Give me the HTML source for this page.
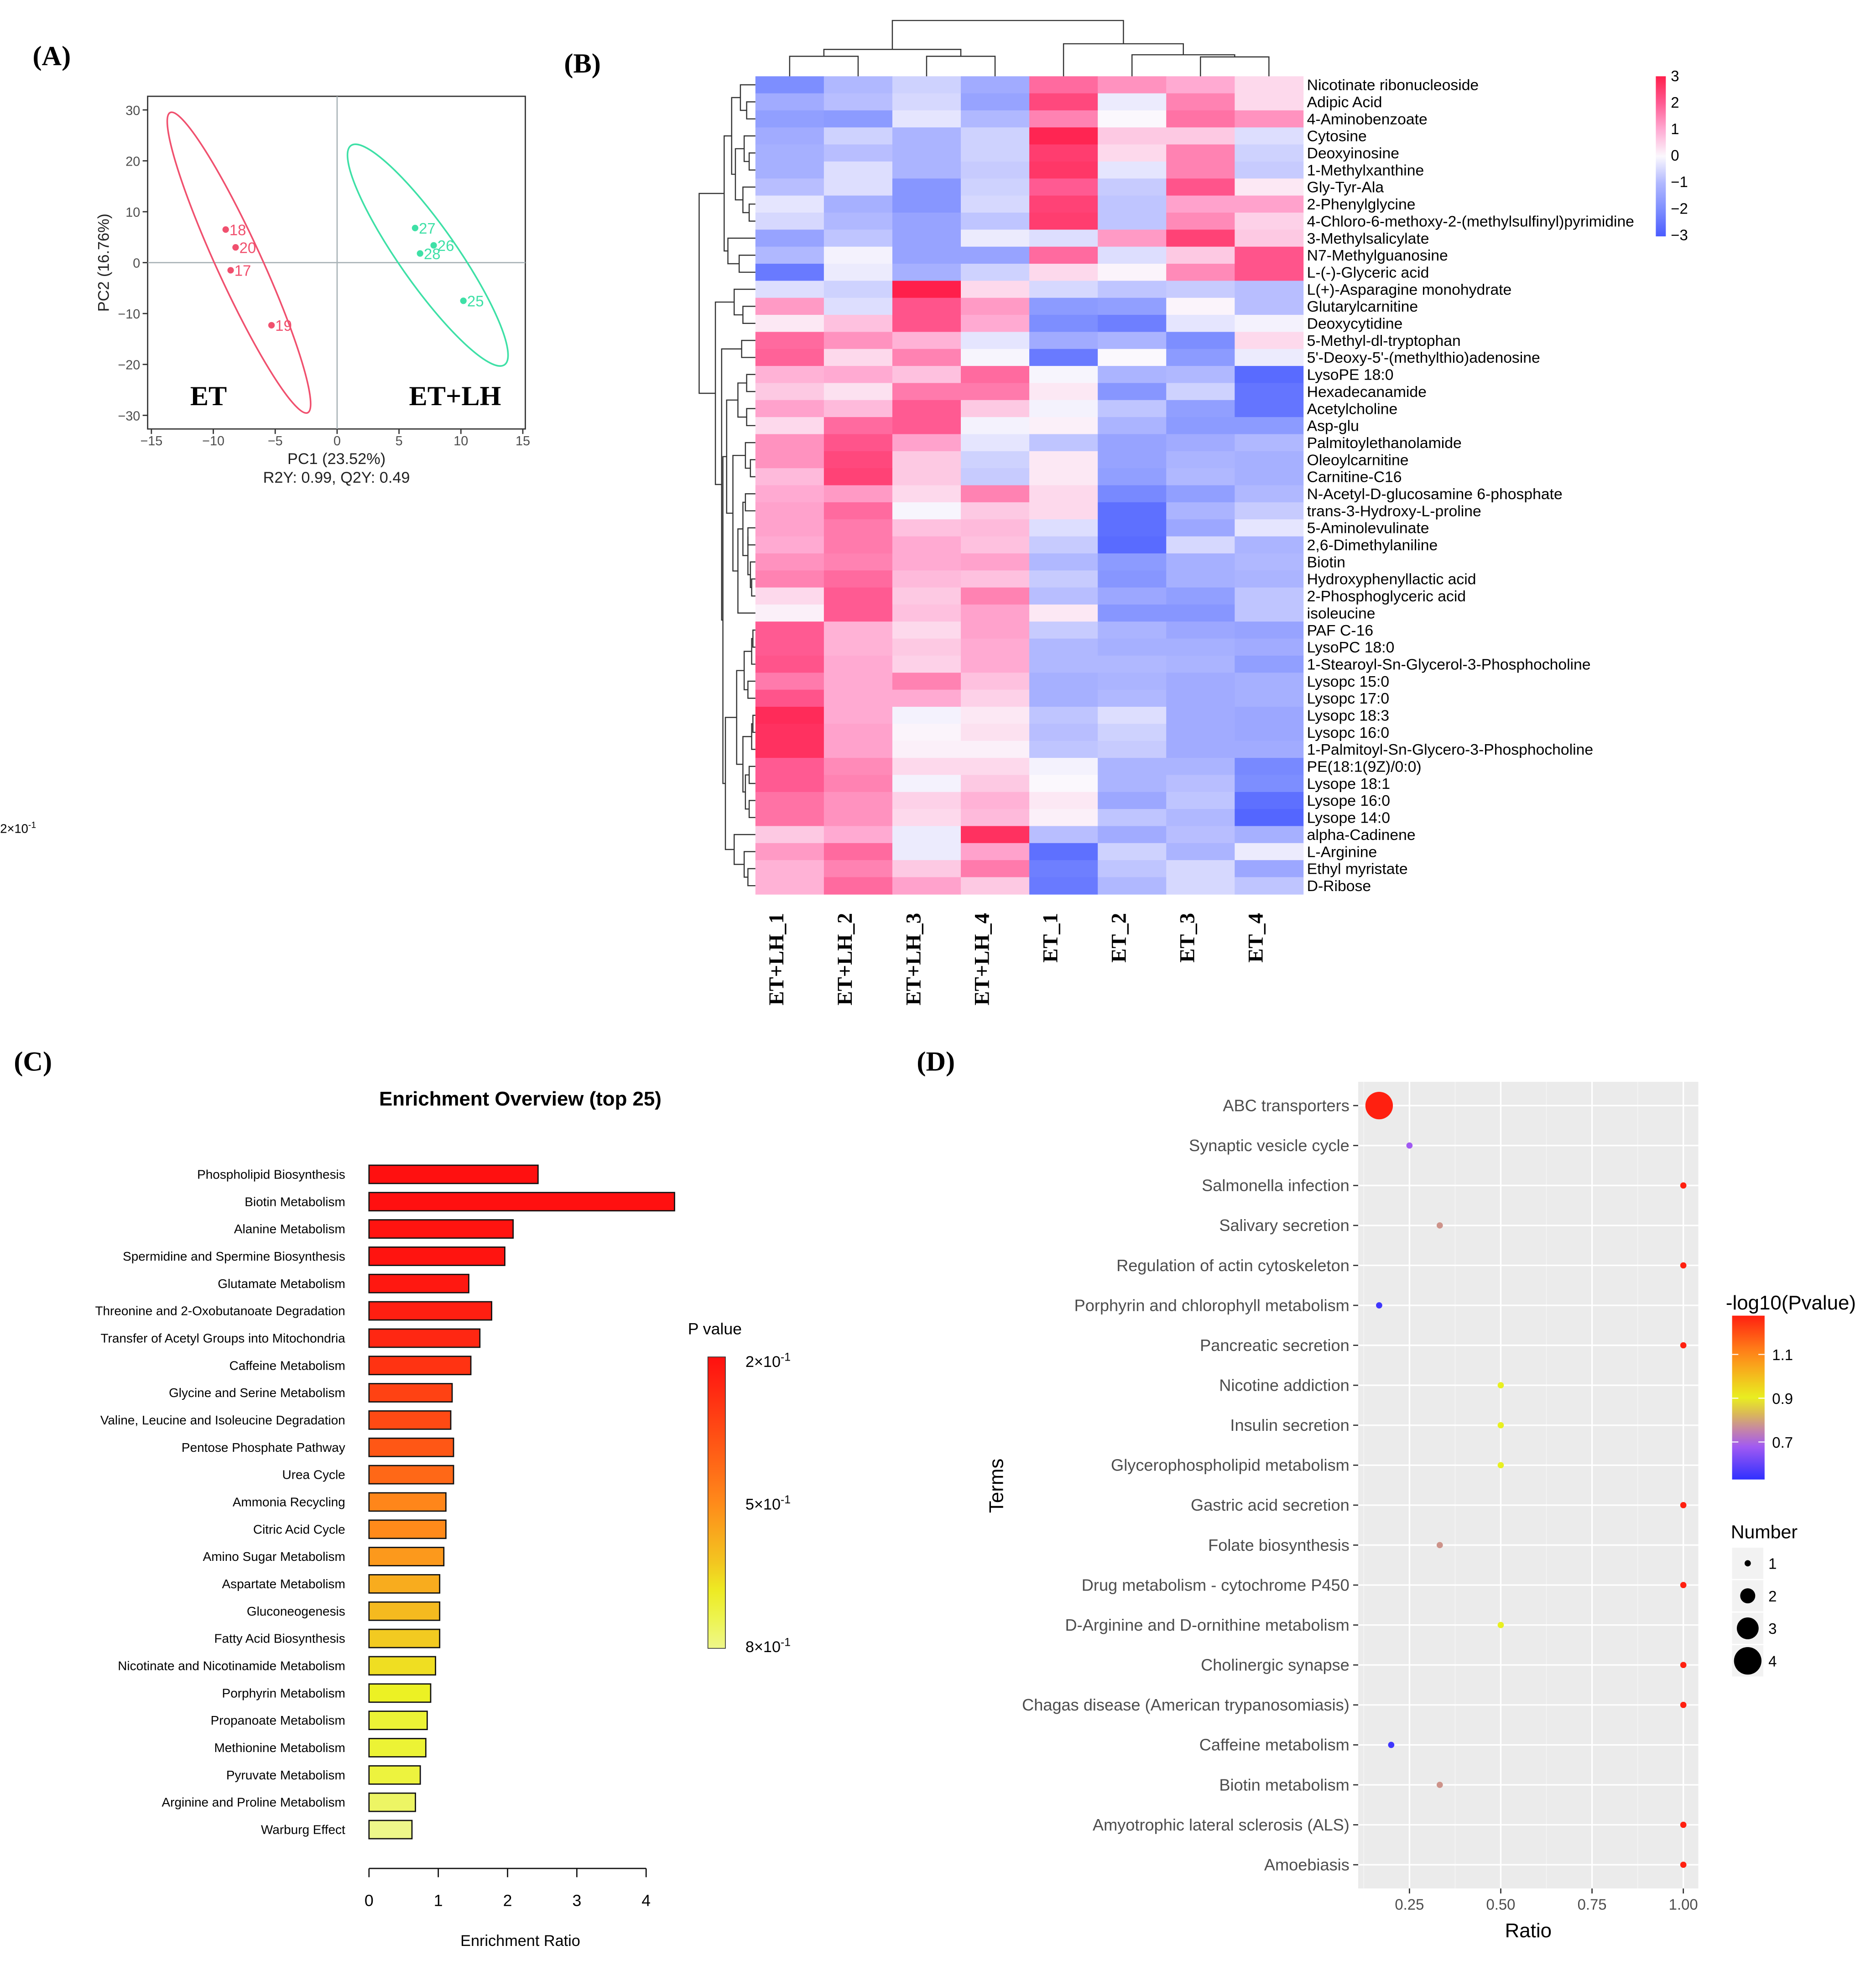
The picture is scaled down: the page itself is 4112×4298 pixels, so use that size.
<!DOCTYPE html>
<html><head><meta charset="utf-8">
<style>
html,body{margin:0;padding:0;background:#fff;}
svg{display:block;font-family:"Liberation Sans",sans-serif;}
</style></head>
<body>
<svg id="fig" xmlns="http://www.w3.org/2000/svg" width="4112" height="4298" viewBox="0 0 1500 1568">
<rect x="0" y="0" width="1500" height="1568" fill="#fff"/>
<g font-family="Liberation Serif, serif" font-weight="bold" font-size="22" fill="#000">
<text x="26" y="52">(A)</text>
<text x="451" y="58">(B)</text>
<text x="11" y="856">(C)</text>
<text x="733" y="856">(D)</text>
</g>
<text x="0" y="666" font-size="10" fill="#000">2×10<tspan dy="-4" font-size="7">-1</tspan></text>

<!-- Panel A -->
<g id="pA">
<rect x="118" y="77" width="302" height="266" fill="none" stroke="#333" stroke-width="1"/>
<text transform="translate(87,210) rotate(-90)" text-anchor="middle" font-size="12.5" fill="#222">PC2 (16.76%)</text>
<text x="269" y="371" text-anchor="middle" font-size="12.5" fill="#222">PC1 (23.52%)</text>
<text x="269" y="386" text-anchor="middle" font-size="12.5" fill="#222">R2Y: 0.99, Q2Y: 0.49</text>
<text x="152" y="324" font-family="Liberation Serif, serif" font-weight="bold" font-size="22">ET</text>
<text x="327" y="324" font-family="Liberation Serif, serif" font-weight="bold" font-size="22">ET+LH</text>
</g>

<!-- Panel B -->
<g id="pB"></g>

<!-- Panel C -->
<g id="pC">
<text x="416" y="884" text-anchor="middle" font-size="16" font-weight="bold" fill="#000">Enrichment Overview (top 25)</text>
<text x="416" y="1556" text-anchor="middle" font-size="12.5" fill="#000">Enrichment Ratio</text>
<text x="550" y="1067" font-size="13" fill="#000">P value</text>
</g>

<!-- Panel D -->
<g id="pD">
<text x="1222" y="1549" text-anchor="middle" font-size="16" fill="#000">Ratio</text>
<text transform="translate(802,1188) rotate(-90)" text-anchor="middle" font-size="16" fill="#000">Terms</text>
<text x="1380" y="1047" font-size="16" fill="#000">-log10(Pvalue)</text>
<text x="1384" y="1230" font-size="15" fill="#000">Number</text>
</g>
</svg>

<script>
// ---------- Panel A data ----------
const pcaLabels = ['18','20','17','19','27','26','28','25'];
const pcaX = [-9, -8.2, -8.6, -5.3, 6.3, 7.8, 6.7, 10.2];
const pcaY = [6.5, 3, -1.5, -12.3, 6.8, 3.4, 1.8, -7.5];
const pcaGroup = [0,0,0,0,1,1,1,1];
const pcaTicksX = [-15,-10,-5,0,5,10,15];
const pcaTicksY = [-30,-20,-10,0,10,20,30];

// ---------- Panel B data ----------
const metabolites = ['Nicotinate ribonucleoside','Adipic Acid','4-Aminobenzoate','Cytosine','Deoxyinosine','1-Methylxanthine','Gly-Tyr-Ala','2-Phenylglycine','4-Chloro-6-methoxy-2-(methylsulfinyl)pyrimidine','3-Methylsalicylate','N7-Methylguanosine','L-(-)-Glyceric acid','L(+)-Asparagine monohydrate','Glutarylcarnitine','Deoxycytidine','5-Methyl-dl-tryptophan',"5'-Deoxy-5'-(methylthio)adenosine",'LysoPE 18:0','Hexadecanamide','Acetylcholine','Asp-glu','Palmitoylethanolamide','Oleoylcarnitine','Carnitine-C16','N-Acetyl-D-glucosamine 6-phosphate','trans-3-Hydroxy-L-proline','5-Aminolevulinate','2,6-Dimethylaniline','Biotin','Hydroxyphenyllactic acid','2-Phosphoglyceric acid','isoleucine','PAF C-16','LysoPC 18:0','1-Stearoyl-Sn-Glycerol-3-Phosphocholine','Lysopc 15:0','Lysopc 17:0','Lysopc 18:3','Lysopc 16:0','1-Palmitoyl-Sn-Glycero-3-Phosphocholine','PE(18:1(9Z)/0:0)','Lysope 18:1','Lysope 16:0','Lysope 14:0','alpha-Cadinene','L-Arginine','Ethyl myristate','D-Ribose'];
const samples = ['ET+LH_1','ET+LH_2','ET+LH_3','ET+LH_4','ET_1','ET_2','ET_3','ET_4'];
const zValues = [
[-2,-1,-0.6,-1.3,1.8,1.3,1,0.4],
[-1.3,-0.9,-0.5,-1.5,2.3,-0.2,1.5,0.4],
[-1.6,-1.7,-0.3,-1,1.5,0,1.7,1.3],
[-1.3,-0.6,-1.1,-0.6,2.9,0.6,0.6,-0.4],
[-1.2,-0.9,-1.1,-0.6,2.5,0.4,1.5,-0.6],
[-1.2,-0.4,-1.1,-0.7,2.6,-0.3,1.5,-0.7],
[-0.9,-0.4,-1.8,-0.6,2,-0.7,2.1,0.2],
[-0.3,-1.2,-1.8,-0.5,2.4,-0.8,1.1,1.1],
[-0.5,-1,-1.5,-0.8,2.5,-0.8,1.4,0.5],
[-1.5,-0.8,-1.5,-0.2,-0.4,1.2,2.4,0.6],
[-1,-0.1,-1.5,-1.5,1.8,-0.4,0.6,2.1],
[-2.4,-0.2,-1.2,-0.6,0.4,0.05,1.4,2.1],
[-0.4,-0.6,3,0.4,-0.5,-0.8,-0.7,-0.9],
[1.2,-0.4,2.1,1.2,-1.7,-1.6,0.05,-0.9],
[0.2,0.7,2.1,1,-2,-2.3,-0.3,-0.1],
[1.8,1.3,0.9,-0.3,-1.3,-1.1,-2,0.4],
[1.9,0.4,1.5,-0.05,-2.4,0,-1.7,-0.2],
[0.9,1,0.7,1.8,-0.05,-1.1,-1,-2.7],
[0.6,0.3,1.6,1.6,0.2,-1.8,-0.6,-2.5],
[1.1,0.8,2,0.6,-0.1,-0.8,-1.6,-2.5],
[0.4,1.8,2,-0.1,0.1,-1.1,-1.7,-1.7],
[1.3,2.1,1.1,-0.3,-0.8,-1.5,-1.3,-1],
[1.3,2.3,0.6,-0.6,0.2,-1.5,-1.1,-1.2],
[0.8,2.4,0.6,-0.7,0.2,-1.6,-1,-1.2],
[1,1.2,0.4,1.5,0.4,-2.1,-1.6,-1],
[1.1,1.8,-0.05,0.6,0.4,-2.6,-1.1,-0.7],
[1.1,1.6,0.7,0.8,-0.4,-2.6,-1.4,-0.3],
[1,1.6,1,0.7,-0.7,-2.7,-0.5,-1.1],
[1.3,1.5,1,1.1,-1,-1.7,-1.2,-1],
[1.5,1.8,0.8,0.7,-0.7,-1.8,-1.2,-1.1],
[0.4,2,0.6,1.5,-0.9,-1.4,-1.6,-0.8],
[0.1,2,0.7,1.1,0.2,-1.8,-1.8,-0.8],
[2,0.9,0.4,1.1,-0.7,-1.1,-1.4,-1.5],
[2,0.9,0.6,1,-1,-1.2,-1.2,-1.3],
[2.1,1,0.5,1,-1,-1,-1.1,-1.6],
[1.6,1,1.5,0.7,-1.2,-1.1,-1.3,-1.2],
[2.1,1,1,0.5,-1.2,-1,-1.3,-1.2],
[2.8,1,-0.1,0.2,-0.8,-0.4,-1.3,-1.4],
[2.7,1.1,0.05,0.3,-0.9,-0.6,-1.3,-1.4],
[2.7,1.1,0.1,0.1,-0.8,-0.7,-1.3,-1.3],
[2,1.4,0.4,0.4,-0.1,-1.1,-1.1,-2.1],
[2,1.5,-0.1,0.6,0,-1.1,-0.9,-2],
[1.7,1.3,0.5,0.9,0.2,-1.4,-0.8,-2.6],
[1.7,1.3,0.4,0.8,0.1,-0.8,-1,-2.8],
[0.6,1,-0.2,2.7,-0.9,-1.3,-0.9,-1.2],
[1.2,1.8,-0.2,1.1,-2.6,-0.6,-1.1,-0.2],
[0.9,1.5,0.6,1.6,-2.3,-0.8,-0.5,-1.4],
[0.9,1.8,1.1,0.6,-2.4,-1,-0.5,-0.8]
];
const zTicks = [3,2,1,0,-1,-2,-3];
const rowTree = [45,
  [25,
    [19,[12,0,[7,1,2]],[16,[9,3,[5,4,5]],[10,6,[5,7,8]]]],
    [22,9,[13,10,11]]],
  [32,
    [17,12,[10,13,14]],
    [27,[11,15,16],
      [26,
        [23,[14,[7,17,18],[7,19,20]],
            [18,[8,21,[4,22,23]],[14,[10,[8,24,25],[6,[6,26,27],[4,28,[3,29,30]]]],31]]],
        [24,[15,[9,[3,[2,32,33],34],[6,35,36]],[10,[3,[2,37,38],39],[8,[5,40,41],[5,42,43]]]],
            [17,44,[9,45,[6,46,47]]]]]]]];
const colTree = [44.6,[21.5,[16,0,1],[16,2,3]],[26,4,[17.2,5,[15.5,6,7]]]];

// ---------- Panel C data ----------
const pathways = ['Phospholipid Biosynthesis','Biotin Metabolism','Alanine Metabolism','Spermidine and Spermine Biosynthesis','Glutamate Metabolism','Threonine and 2-Oxobutanoate Degradation','Transfer of Acetyl Groups into Mitochondria','Caffeine Metabolism','Glycine and Serine Metabolism','Valine, Leucine and Isoleucine Degradation','Pentose Phosphate Pathway','Urea Cycle','Ammonia Recycling','Citric Acid Cycle','Amino Sugar Metabolism','Aspartate Metabolism','Gluconeogenesis','Fatty Acid Biosynthesis','Nicotinate and Nicotinamide Metabolism','Porphyrin Metabolism','Propanoate Metabolism','Methionine Metabolism','Pyruvate Metabolism','Arginine and Proline Metabolism','Warburg Effect'];
const enrichRatio = [2.44,4.41,2.08,1.96,1.44,1.77,1.6,1.47,1.2,1.18,1.22,1.22,1.11,1.11,1.08,1.02,1.02,1.02,0.96,0.89,0.84,0.82,0.74,0.67,0.62];
const pValues = [0.2,0.2,0.21,0.21,0.22,0.24,0.26,0.29,0.33,0.35,0.38,0.42,0.49,0.5,0.53,0.57,0.6,0.63,0.66,0.69,0.71,0.71,0.72,0.76,0.8];
const ratioTicks = [0,1,2,3,4];
const pTickValues = [0.2,0.5,0.8];
const pTickLabels = ['2×10','5×10','8×10'];

// ---------- Panel D data ----------
const terms = ['ABC transporters','Synaptic vesicle cycle','Salmonella infection','Salivary secretion','Regulation of actin cytoskeleton','Porphyrin and chlorophyll metabolism','Pancreatic secretion','Nicotine addiction','Insulin secretion','Glycerophospholipid metabolism','Gastric acid secretion','Folate biosynthesis','Drug metabolism - cytochrome P450','D-Arginine and D-ornithine metabolism','Cholinergic synapse','Chagas disease (American trypanosomiasis)','Caffeine metabolism','Biotin metabolism','Amyotrophic lateral sclerosis (ALS)','Amoebiasis'];
const termRatio = [0.167,0.25,1,0.333,1,0.167,1,0.5,0.5,0.5,1,0.333,1,0.5,1,1,0.2,0.333,1,1];
const termLogP = [1.28,0.68,1.28,0.78,1.28,0.55,1.28,0.9,0.9,0.9,1.28,0.78,1.28,0.9,1.28,1.28,0.55,0.78,1.28,1.28];
const termNumber = [4,1,1,1,1,1,1,1,1,1,1,1,1,1,1,1,1,1,1,1];
const dTicks = [0.25,0.5,0.75,1.0];
const dTickLabels = ['0.25','0.50','0.75','1.00'];
const logPTicks = [1.1,0.9,0.7];
const numberKeys = [1,2,3,4];

// ---------- helpers ----------
const NS = 'http://www.w3.org/2000/svg';
function mk(parent, tag, attrs, txt) {
  const e = document.createElementNS(NS, tag);
  for (const k in attrs) e.setAttribute(k, attrs[k]);
  if (txt !== undefined) e.textContent = txt;
  parent.appendChild(e);
  return e;
}
function hex(c){return [parseInt(c.slice(1,3),16),parseInt(c.slice(3,5),16),parseInt(c.slice(5,7),16)];}
function interp(stops, v) {
  if (v <= stops[0][0]) return stops[0][1];
  if (v >= stops[stops.length-1][0]) return stops[stops.length-1][1];
  for (let i=0;i<stops.length-1;i++){
    const [a,ca]=stops[i],[b,cb]=stops[i+1];
    if (v>=a && v<=b){
      const t=(v-a)/(b-a), A=hex(ca), B=hex(cb);
      return 'rgb('+A.map((x,j)=>Math.round(x+(B[j]-x)*t)).join(',')+')';
    }
  }
}

// ---------- Panel A ----------
(function(){
  const g = document.getElementById('pA');
  const sx = v => 269.5 + v*9.9;
  const sy = v => 210 - v*4.07;
  const cols = ['#f0506e','#3ee0a6'];
  let l = mk(g,'line',{x1:sx(0),x2:sx(0),y1:77,y2:343,stroke:'#aab4b8','stroke-width':1});
  
  
  l = mk(g,'line',{x1:118,x2:420,y1:sy(0),y2:sy(0),stroke:'#aab4b8','stroke-width':1});
  
  
  pcaTicksX.forEach(v=>{
    const t = mk(g,'line',{x1:sx(v),x2:sx(v),y1:343,y2:347,stroke:'#333'});
    
    
    const tl = mk(g,'text',{x:sx(v),y:356,'text-anchor':'middle','font-size':10.5,fill:'#4d4d4d'}, v<0?'\u2212'+(-v):String(v));
    
    
  });
  pcaTicksY.forEach(v=>{
    const t = mk(g,'line',{x1:114,x2:118,y1:sy(v),y2:sy(v),stroke:'#333'});
    
    
    const tl = mk(g,'text',{x:112,y:sy(v)+4,'text-anchor':'end','font-size':10.5,fill:'#4d4d4d'}, v<0?'\u2212'+(-v):String(v));
    
    
  });
  const ellET = mk(g,'ellipse',{cx:191,cy:210,rx:132,ry:18,fill:'none',stroke:cols[0],'stroke-width':1.3,transform:'rotate(65.4 191 210)'});
  
  
  const ellLH = mk(g,'ellipse',{cx:342,cy:204,rx:107,ry:23,fill:'none',stroke:cols[1],'stroke-width':1.3,transform:'rotate(55 342 204)'});
  
  
  pcaLabels.forEach((lab,i)=>{
    const c = cols[pcaGroup[i]];
    const p = mk(g,'circle',{cx:sx(pcaX[i]),cy:sy(pcaY[i]),r:2.6,fill:c});
    
    
    const t = mk(g,'text',{x:sx(pcaX[i])+3,y:sy(pcaY[i])+4.5,'font-size':12,fill:c},lab);
    
    
  });
})();

// ---------- Panel B ----------
(function(){
  const g = document.getElementById('pB');
  const X0=604, Y0=61, CW=438/8, RH=654/48;
  const hmStops=[[-3,'#4a5cff'],[-2,'#7d8eff'],[-1,'#b0b8ff'],[0,'#fbf8fd'],[1,'#ffaad2'],[2,'#ff5a92'],[3,'#ff1f4b']];
  zValues.forEach((row,r)=>{
    row.forEach((v,c)=>{
      const cell = mk(g,'rect',{x:X0+c*CW,y:Y0+r*RH,width:CW+0.3,height:RH+0.3,fill:interp(hmStops,v)});
      
      
    });
    const t = mk(g,'text',{x:1045,y:Y0+(r+0.5)*RH+4.3,'font-size':12.3,fill:'#000'},metabolites[r]);
    
    
  });
  samples.forEach((s,c)=>{
    const cx = X0+(c+0.5)*CW;
    const t = mk(g,'text',{transform:'translate('+(cx-5)+',730) rotate(-90)','text-anchor':'end','font-size':17,'font-family':'Liberation Serif, serif','font-weight':'bold',fill:'#000'},s);
    
    
  });
  function drawRow(node){
    if (typeof node==='number') return {y:Y0+(node+0.5)*RH, d:0};
    const a=drawRow(node[1]), b=drawRow(node[2]), d=node[0], x=X0-d;
    const p = mk(g,'path',{d:'M'+(X0-a.d)+','+a.y+'H'+x+'V'+b.y+'H'+(X0-b.d),fill:'none',stroke:'#333','stroke-width':0.9});
    
    
    return {y:(a.y+b.y)/2, d:d};
  }
  drawRow(rowTree);
  function drawCol(node){
    if (typeof node==='number') return {x:X0+(node+0.5)*CW, d:0};
    const a=drawCol(node[1]), b=drawCol(node[2]), d=node[0], y=Y0-d;
    const p = mk(g,'path',{d:'M'+a.x+','+(Y0-a.d)+'V'+y+'H'+b.x+'V'+(Y0-b.d),fill:'none',stroke:'#333','stroke-width':0.9});
    
    
    return {x:(a.x+b.x)/2, d:d};
  }
  drawCol(colTree);
  const defs = mk(g,'defs',{});
  const lg = mk(defs,'linearGradient',{id:'hmgrad',x1:0,y1:0,x2:0,y2:1});
  for (let i=0;i<=12;i++){ const v=3-i*0.5; mk(lg,'stop',{offset:(i/12),'stop-color':interp(hmStops,v)}); }
  const cb = mk(g,'rect',{x:1324,y:61,width:8,height:128,fill:'url(#hmgrad)'});
  
  
  zTicks.forEach(v=>{
    const y = 61 + (3-v)/6*127;
    const t = mk(g,'text',{x:1336,y:y+4,'font-size':12,fill:'#000'}, v<0?'\u2212'+(-v):String(v));
    
    
  });
})();

// ---------- Panel C ----------
(function(){
  const g = document.getElementById('pC');
  const x = v => 295 + v*55.4;
  const pStops=[[0,'#ff1010'],[0.25,'#ff4a14'],[0.5,'#ff8a1a'],[0.7,'#f3c420'],[0.82,'#ecf224'],[1,'#eef78a']];
  const pc = p => interp(pStops,(p-0.2)/0.6);
  pathways.forEach((name,i)=>{
    const cy = 939 + i*21.83;
    const b = mk(g,'rect',{x:x(0),y:cy-7.3,width:x(enrichRatio[i])-x(0),height:14.6,fill:pc(pValues[i]),stroke:'#111','stroke-width':1});
    
    
    const t = mk(g,'text',{x:276,y:cy+3.5,'text-anchor':'end','font-size':10.2,fill:'#000'},name);
    
    
  });
  const ax = mk(g,'line',{x1:x(0),x2:x(4),y1:1494,y2:1494,stroke:'#111','stroke-width':1});
  
  
  ratioTicks.forEach(v=>{
    const t = mk(g,'line',{x1:x(v),x2:x(v),y1:1494,y2:1501,stroke:'#111'});
    
    
    const tl = mk(g,'text',{x:x(v),y:1524,'text-anchor':'middle','font-size':13,fill:'#000'},String(v));
    
    
  });
  const defs = mk(g,'defs',{});
  const lg = mk(defs,'linearGradient',{id:'pgrad',x1:0,y1:0,x2:0,y2:1});
  for (let i=0;i<=10;i++) mk(lg,'stop',{offset:i/10,'stop-color':interp(pStops,i/10)});
  const cb = mk(g,'rect',{x:566,y:1085,width:14,height:233,fill:'url(#pgrad)',stroke:'#333','stroke-width':0.6});
  
  
  pTickValues.forEach((p,i)=>{
    const y = 1088 + (p-0.2)/0.6*228;
    const t = mk(g,'text',{x:596,y:y+5,'font-size':12.5,fill:'#000'});
    
    
    t.textContent = pTickLabels[i];
    mk(t,'tspan',{dy:-5,'font-size':9},'-1');
  });
})();

// ---------- Panel D ----------
(function(){
  const g = document.getElementById('pD');
  const X = v => 1054 + v*292;
  const Y = i => 884 + i*31.95;
  const bg = mk(g,'rect',{x:1086,y:865,width:272,height:645,fill:'#ebebeb'});
  
  
  [0.125,0.375,0.625,0.875].forEach(v=>{
    const m = mk(g,'line',{x1:X(v),x2:X(v),y1:865,y2:1510,stroke:'#f5f5f5','stroke-width':0.6});
    
    
  });
  dTicks.forEach((v,i)=>{
    const m = mk(g,'line',{x1:X(v),x2:X(v),y1:865,y2:1510,stroke:'#fff','stroke-width':1.2});
    
    
    const tk = mk(g,'line',{x1:X(v),x2:X(v),y1:1510,y2:1514,stroke:'#333'});
    
    
    const tl = mk(g,'text',{x:X(v),y:1527,'text-anchor':'middle','font-size':12,fill:'#4d4d4d'},dTickLabels[i]);
    
    
  });
  const lStops=[[0.53,'#3030ff'],[0.7,'#b060f0'],[0.8,'#d4a070'],[0.9,'#e8f020'],[1.1,'#ff8c1a'],[1.28,'#ff2010']];
  terms.forEach((t,i)=>{
    const gl = mk(g,'line',{x1:1086,x2:1358,y1:Y(i),y2:Y(i),stroke:'#fff','stroke-width':1.2});
    
    
    const tk = mk(g,'line',{x1:1082,x2:1086,y1:Y(i),y2:Y(i),stroke:'#333'});
    
    
    const lab = mk(g,'text',{x:1079,y:Y(i)+4.5,'text-anchor':'end','font-size':13.2,fill:'#4d4d4d'},t);
    
    
  });
  const rFor = n => 2.5 + (Math.sqrt(n)-1)*8.5;
  terms.forEach((t,i)=>{
    const c = mk(g,'circle',{cx:X(termRatio[i]),cy:Y(i),r:rFor(termNumber[i]),fill:interp(lStops,termLogP[i])});
    
    
  });
  const defs = mk(g,'defs',{});
  const lg = mk(defs,'linearGradient',{id:'lgrad',x1:0,y1:1,x2:0,y2:0});
  for (let i=0;i<=10;i++){ const v=0.53+(1.28-0.53)*i/10; mk(lg,'stop',{offset:i/10,'stop-color':interp(lStops,v)}); }
  const cb = mk(g,'rect',{x:1385,y:1052,width:26,height:131,fill:'url(#lgrad)'});
  
  
  logPTicks.forEach(v=>{
    const y = 1083 + (1.1-v)*175;
    const a = mk(g,'line',{x1:1385,x2:1390,y1:y,y2:y,stroke:'#fff','stroke-width':0.8});
    
    
    const b = mk(g,'line',{x1:1406,x2:1411,y1:y,y2:y,stroke:'#fff','stroke-width':0.8});
    
    
    const tl = mk(g,'text',{x:1417,y:y+4.5,'font-size':12,fill:'#000'},v.toFixed(1));
    
    
  });
  numberKeys.forEach((n,i)=>{
    const cy = 1250 + i*26;
    const box = mk(g,'rect',{x:1385,y:cy-12.5,width:25,height:25,fill:'#f2f2f2'});
    
    
    const c = mk(g,'circle',{cx:1397.5,cy:cy,r:rFor(n),fill:'#000'});
    
    
    const tl = mk(g,'text',{x:1414,y:cy+4.5,'font-size':12,fill:'#000'},String(n));
    
    
  });
})();
</script>
</body></html>
